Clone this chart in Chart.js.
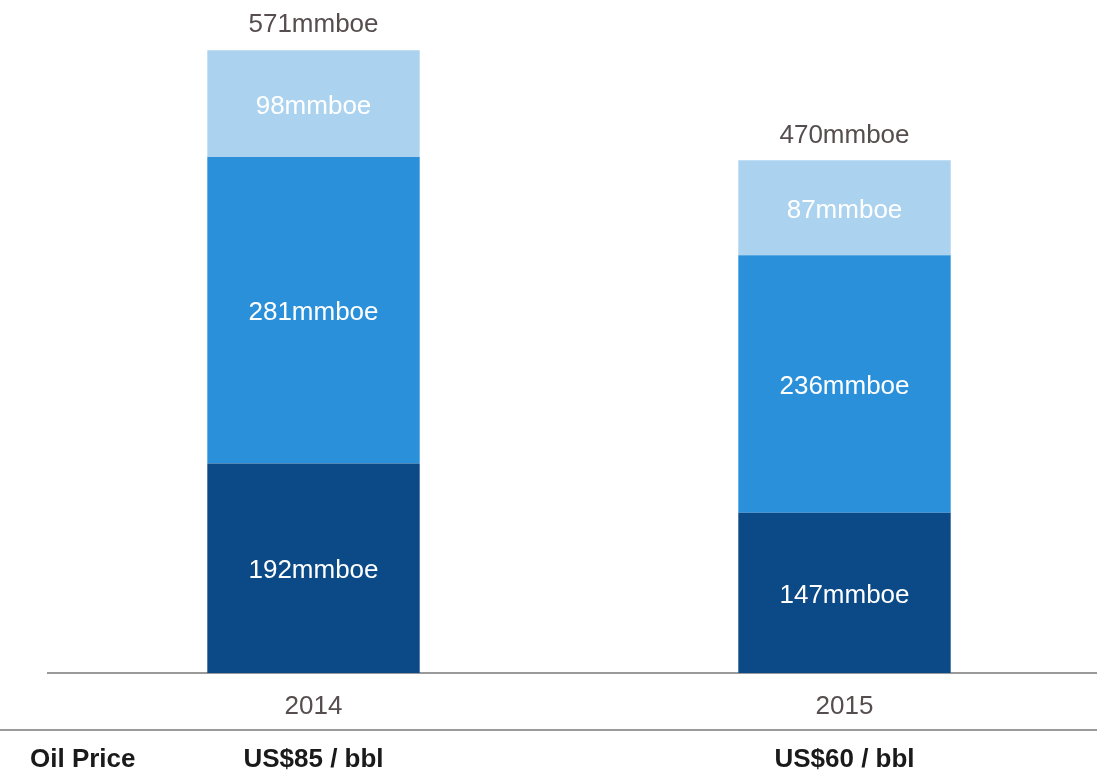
<!DOCTYPE html>
<html>
<head>
<meta charset="utf-8">
<script src="https://cdn.jsdelivr.net/npm/chart.js@4/dist/chart.umd.min.js"></script>
<style>
  html, body { margin: 0; padding: 0; background: #fff; overflow: hidden; }
  #wrap { width: 1110px; height: 777px; }
</style>
</head>
<body>
<div id="wrap"><canvas id="reservesChart"></canvas></div>
<script>
// data
const years = ["2014", "2015"];
const bottomSeg = [192, 147];
const middleSeg = [281, 236];
const topSeg = [98, 87];
const oilPrices = ["US$85 / bbl", "US$60 / bbl"];
const rowTitle = "Oil Price";
const unit = "mmboe";

const FONT = "'Liberation Sans', Arial, sans-serif";

// labels inside bars, totals on top, price row underneath
const labelPlugin = {
  id: "labelPlugin",
  afterDatasetsDraw(chart) {
    const ctx = chart.ctx;
    ctx.save();
    ctx.font = "26px " + FONT;
    ctx.textAlign = "center";
    ctx.textBaseline = "middle";
    chart.data.datasets.forEach((ds, i) => {
      const meta = chart.getDatasetMeta(i);
      meta.data.forEach((bar, j) => {
        ctx.fillStyle = "#ffffff";
        ctx.fillText(ds.data[j] + unit, bar.x, (bar.y + bar.base) / 2 + 3);
      });
    });
    // totals
    const lastMeta = chart.getDatasetMeta(chart.data.datasets.length - 1);
    lastMeta.data.forEach((bar, j) => {
      const total = bottomSeg[j] + middleSeg[j] + topSeg[j];
      ctx.fillStyle = "#554d4e";
      ctx.fillText(total + unit, bar.x, bar.y - 25);
    });
    ctx.restore();
  },
  afterDraw(chart) {
    const ctx = chart.ctx;
    const xScale = chart.scales.x;
    ctx.save();
    // separator line above the price row
    ctx.strokeStyle = "#9a9a9a";
    ctx.lineWidth = 2;
    ctx.beginPath();
    ctx.moveTo(0, 730);
    ctx.lineTo(chart.width, 730);
    ctx.stroke();

    ctx.font = "bold 26px " + FONT;
    ctx.fillStyle = "#1a1a1a";
    ctx.textBaseline = "middle";
    ctx.textAlign = "left";
    ctx.fillText(rowTitle, 30, 760);
    ctx.textAlign = "center";
    oilPrices.forEach((p, i) => {
      ctx.fillText(p, xScale.getPixelForValue(i), 760);
    });
    ctx.restore();
  }
};

const ctx = document.getElementById("reservesChart").getContext("2d");

new Chart(ctx, {
  type: "bar",
  data: {
    labels: years,
    datasets: [
      { label: "bottom", data: bottomSeg, backgroundColor: "#0c4a87" },
      { label: "middle", data: middleSeg, backgroundColor: "#2b90da" },
      { label: "top", data: topSeg, backgroundColor: "#abd3ef" },
    ],
  },
  options: {
    responsive: true,
    maintainAspectRatio: false,
    animation: false,
    layout: { padding: { left: 48, top: 0, right: 0, bottom: 0 } },
    datasets: {
      bar: { barPercentage: 0.4, categoryPercentage: 1.0 }
    },
    plugins: {
      legend: { display: false },
      tooltip: { enabled: false },
    },
    scales: {
      x: {
        stacked: true,
        grid: { display: false, drawTicks: false },
        border: { display: true, color: "#9a9a9a", width: 2 },
        ticks: {
          color: "#554d4e",
          padding: 18,
          font: { family: FONT, size: 26 },
        },
        afterFit(scale) {
          scale.height = 104;
        },
      },
      y: {
        stacked: true,
        display: false,
        min: 0,
        max: 617,
      },
    },
  },
  plugins: [labelPlugin],
});
</script>
</body>
</html>
